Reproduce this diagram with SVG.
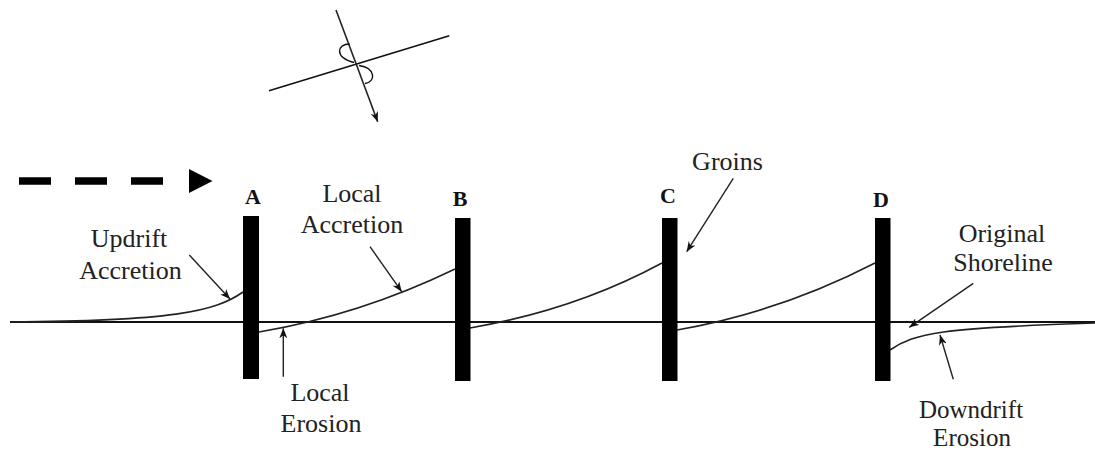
<svg xmlns="http://www.w3.org/2000/svg" width="1095" height="452" viewBox="0 0 1095 452">
<style>
text{font-family:'Liberation Serif','Times New Roman','DejaVu Serif',serif}
.lbl{font-size:26px;fill:#222;text-anchor:middle}
.gl{font-size:22px;font-weight:bold;fill:#111;text-anchor:middle}
.ln{fill:none;stroke:#111;stroke-width:1.6}
.cv{fill:none;stroke:#222;stroke-width:1.6}
.ar{fill:none;stroke:#222;stroke-width:1.4;marker-end:url(#ah)}
.groin{fill:#000}
</style>
<defs>
<marker id="ah" viewBox="0 0 10 8" refX="10" refY="4" markerWidth="10" markerHeight="8" markerUnits="userSpaceOnUse" orient="auto">
<path d="M0,0 L10,4 L0,8 L3,4 Z" fill="#111"/>
</marker>
</defs>
<g id="compass">
<line class="ln" x1="269" y1="90.7" x2="449.3" y2="35.7"/>
<line class="ar" x1="336" y1="10" x2="377.7" y2="121.7" style="stroke-width:1.6"/>
<path class="ln" d="M349.6,44 C337,44 334,57 354,62.5" style="stroke-width:1.4"/>
<path class="ln" d="M359,65.5 C376,68 376,82 365,83.5" style="stroke-width:1.4"/>
</g>
<g id="drift-arrow">
<line x1="19" y1="181" x2="163" y2="181" stroke="#000" stroke-width="7.5" stroke-dasharray="32 24"/>
<path d="M189,169 L212.5,181 L189,193 Z" fill="#000"/>
</g>
<g id="shoreline">
<line x1="10" y1="322" x2="1095" y2="322" stroke="#111" stroke-width="2"/>
</g>
<g id="curves">
<path class="cv" d="M10,322 C170,321 215,312 243,292"/>
<path class="cv" d="M259,332 Q360,315 455,269"/>
<path class="cv" d="M470,328 Q575,310 662,263"/>
<path class="cv" d="M677,330 Q780,312 875,263"/>
<path class="cv" d="M890,350 C915,333 940,328 1095,323"/>
</g>
<g id="groin-A"><rect class="groin" x="243" y="216" width="16" height="163"/><text class="gl" x="253" y="204" font-family="Liberation Serif, serif">A</text></g>
<g id="groin-B"><rect class="groin" x="455" y="218" width="15.5" height="163"/><text class="gl" x="460" y="206" font-family="Liberation Serif, serif">B</text></g>
<g id="groin-C"><rect class="groin" x="662" y="218" width="15.5" height="163"/><text class="gl" x="668" y="203" font-family="Liberation Serif, serif">C</text></g>
<g id="groin-D"><rect class="groin" x="875" y="218" width="15.5" height="163"/><text class="gl" x="881" y="207" font-family="Liberation Serif, serif">D</text></g>
<g id="connectors">
<line class="ar" x1="189.3" y1="255" x2="230" y2="299"/>
<line class="ar" x1="370" y1="246.7" x2="401.7" y2="291.7"/>
<line class="ar" x1="283.3" y1="376.7" x2="283.3" y2="328.3"/>
<line class="ar" x1="733.3" y1="178.3" x2="686.7" y2="251.7"/>
<line class="ar" x1="973.3" y1="283.3" x2="909.3" y2="327.3"/>
<line class="ar" x1="953.3" y1="379.3" x2="940" y2="335"/>
</g>
<g id="label-updrift" font-family="Liberation Serif, serif"><text class="lbl" x="129" y="247">Updrift</text><text class="lbl" x="130.5" y="279">Accretion</text></g>
<g id="label-local-accretion" font-family="Liberation Serif, serif"><text class="lbl" x="352" y="202">Local</text><text class="lbl" x="352" y="233">Accretion</text></g>
<g id="label-local-erosion" font-family="Liberation Serif, serif"><text class="lbl" x="320" y="401">Local</text><text class="lbl" x="321" y="432">Erosion</text></g>
<g id="label-groins" font-family="Liberation Serif, serif"><text class="lbl" x="727.5" y="170">Groins</text></g>
<g id="label-original" font-family="Liberation Serif, serif"><text class="lbl" x="1002" y="242">Original</text><text class="lbl" x="1003" y="271">Shoreline</text></g>
<g id="label-downdrift" font-family="Liberation Serif, serif"><text class="lbl" x="971" y="418" style="font-size:25px">Downdrift</text><text class="lbl" x="972" y="446" style="font-size:25px">Erosion</text></g>
</svg>
